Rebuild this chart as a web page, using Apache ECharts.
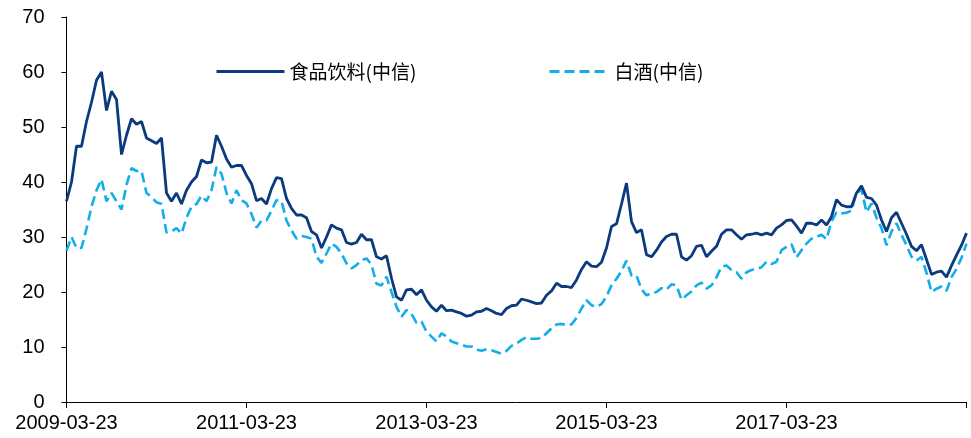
<!DOCTYPE html>
<html>
<head>
<meta charset="utf-8">
<script src="https://cdn.jsdelivr.net/npm/echarts@6/dist/echarts.min.js"></script>
<style>html,body{margin:0;padding:0;background:#fff;}#c{width:971px;height:438px;}</style>
</head>
<body>
<div id="c"></div>
<script>
// x-axis tick labels (every 36 samples = 2 years)
const tickLabels = ['2009-03-23', '2011-03-23', '2013-03-23', '2015-03-23', '2017-03-23'];
const seriesNames = ['食品饮料(中信)', '白酒(中信)'];
// PE values, sampled roughly every 20 days from 2009-03-23 to 2019-03
const food = [
  36.5, 40, 46.5, 46.5, 51, 54.5, 58.5, 60, 53, 56.5,
  55, 45, 48.5, 51.5, 50.5, 51, 48, 47.5, 47, 48,
  38, 36.5, 38, 36, 38.5, 40, 41, 44, 43.5, 43.6,
  48.5, 46.5, 44.2, 42.7, 43, 43, 41.2, 39.7, 36.6, 37,
  36, 38.8, 40.8, 40.6, 37, 35.2, 34, 34, 33.5, 31,
  30.4, 28, 30, 32.2, 31.6, 31.3, 29, 28.7, 29, 30.5,
  29.5, 29.5, 26.4, 26, 26.6, 22.5, 19.1, 18.5, 20.4, 20.5,
  19.5, 20.4, 18.5, 17.3, 16.5, 17.6, 16.6, 16.7, 16.4, 16.1,
  15.6, 15.8, 16.4, 16.5, 17, 16.6, 16.1, 15.9, 17, 17.5,
  17.6, 18.7, 18.5, 18.2, 17.9, 18, 19.4, 20.2, 21.6, 21,
  21, 20.8, 22.2, 24.1, 25.5, 24.7, 24.6, 25.4, 28, 31.9,
  32.4, 36, 39.8, 32.8, 30.8, 31.3, 26.8, 26.4, 27.6, 29.1,
  30.1, 30.5, 30.5, 26.4, 25.8, 26.6, 28.3, 28.5, 26.4, 27.4,
  28.3, 30.5, 31.3, 31.3, 30.4, 29.6, 30.4, 30.5, 30.7, 30.4,
  30.7, 30.4, 31.6, 32.2, 33, 33.1, 32, 30.7, 32.5, 32.5,
  32.2, 33.1, 32.2, 33.7, 36.8, 35.8, 35.5, 35.5, 38, 39.3,
  37.2, 37, 35.8, 33.1, 31, 33.5, 34.5, 32.5, 30.5, 28.3,
  27.5, 28.6, 25.9, 23.2, 23.6, 23.8, 22.7, 24.8, 26.7, 28.5,
  30.7
];
const baijiu = [
  27.5, 30, 28, 28, 31.5, 35.5, 38.5, 40.5, 36.5, 38,
  36.5, 35, 39.5, 42.5, 42, 42, 38, 37.3, 36.3, 36,
  30.8, 31, 31.6, 30.6, 33.5, 35.5, 36, 37.5, 36.5, 38.5,
  42.7, 41.5, 38, 36.1, 38.5, 36.7, 36.1, 34.2, 31.7, 33,
  33, 34.8, 36.7, 36.5, 33, 31.2, 29.7, 30.2, 30, 29.7,
  26.4, 25.3, 27, 28.8, 28.2, 27, 25.2, 24.3, 24.9, 25.8,
  26.1, 25, 21.5, 21.2, 22.8, 20, 17.3, 15.5, 16.7, 16,
  14.4, 14.6, 12.8, 11.9, 11, 12.5, 11.9, 11, 10.7, 10.4,
  10.1, 10.1, 9.5, 9.3, 9.6, 9.4, 9.1, 8.8, 9.3, 10.2,
  10.6, 11.3, 11.8, 11.5, 11.5, 11.6, 12.5, 13.4, 14.1, 14.2,
  14, 14.1, 15.3, 17, 18.5, 17.6, 17.3, 17.8, 19.2, 21.2,
  22.4, 23.8, 25.7, 23, 23, 20.5, 19.4, 19.8, 20, 20.7,
  20.4, 21.4, 21.2, 18.6, 19.4, 20.1, 21.2, 21.7, 20.6, 21.2,
  22.7, 24.6, 24.8, 24, 23.6, 22.4, 23.6, 24, 24.2, 24.5,
  25.5, 25.1, 25.5, 27.6, 28.2, 28.7, 26.3, 27.6, 28.8, 29.7,
  30, 30.4, 29.6, 32.8, 34.5, 34.3, 34.4, 34.8, 38, 38.6,
  34.5, 36.1, 33.5, 31.6, 28.5, 31, 32.5, 30.4, 28.5, 26.4,
  25.7, 26.4, 23.5, 20, 20.6, 21, 20.2, 22.7, 24.2, 26.2,
  28.8
];
const step = 36;
const categories = food.map((_, i) => String(i));

const chart = echarts.init(document.getElementById('c'), null, {renderer: 'canvas'});
const axisFont = {fontFamily: 'Liberation Sans, Arial, sans-serif', fontSize: 20, color: '#000'};
const legendText = {fontFamily: 'Noto Sans CJK SC', fontSize: 19, color: '#000'};
chart.setOption({
  animation: false,
  backgroundColor: '#fff',
  grid: {left: 66.5, right: 4.5, top: 17, bottom: 36, containLabel: false},
  legend: [
    {data: [seriesNames[0]], left: 215, top: 62, padding: 0, itemWidth: 68, itemHeight: 14,
     itemStyle: {opacity: 0}, lineStyle: {width: 3}, textStyle: legendText},
    {data: [seriesNames[1]], left: 548, top: 62, padding: 0, itemWidth: 60, itemHeight: 14,
     itemStyle: {opacity: 0}, lineStyle: {width: 3}, textStyle: legendText}
  ],
  xAxis: {
    type: 'category',
    data: categories,
    boundaryGap: false,
    axisLine: {lineStyle: {color: '#000', width: 1}},
    axisTick: {show: true, length: 6, interval: (i) => i % step === 0, lineStyle: {color: '#000'}},
    axisLabel: Object.assign({
      interval: 0, margin: 11,
      formatter: (v, i) => (i % step === 0 ? (tickLabels[i / step] || '') : '')
    }, axisFont),
    splitLine: {show: false}
  },
  yAxis: {
    type: 'value', min: 0, max: 70, interval: 10,
    axisLine: {show: true, lineStyle: {color: '#000', width: 1}},
    axisTick: {show: true, length: 5, lineStyle: {color: '#000'}},
    axisLabel: Object.assign({margin: 22}, axisFont),
    splitLine: {show: false}
  },
  series: [
    {name: seriesNames[0], type: 'line', data: food, symbol: 'none', showSymbol: false,
     lineStyle: {color: '#0b3a7e', width: 2.8}, itemStyle: {color: '#0b3a7e'}, z: 3},
    {name: seriesNames[1], type: 'line', data: baijiu, symbol: 'none', showSymbol: false,
     lineStyle: {color: '#12aeea', width: 2.6, type: [10, 5]}, itemStyle: {color: '#12aeea'}, z: 2}
  ]
});
</script>
</body>
</html>
